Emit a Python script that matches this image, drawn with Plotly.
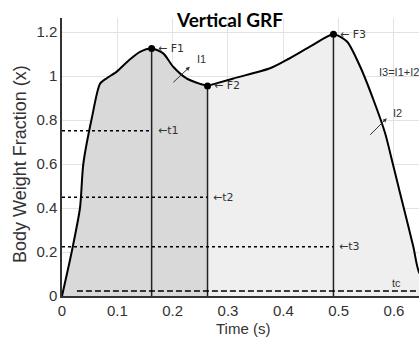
import plotly.graph_objects as go

# ---- data ----
time_s = [0, 0.0175, 0.0325, 0.0385, 0.054, 0.0687, 0.0808, 0.099, 0.123, 0.141,
          0.162, 0.183, 0.201, 0.225, 0.2495, 0.263, 0.31, 0.376, 0.406, 0.448,
          0.4906, 0.515, 0.539, 0.563, 0.584, 0.598, 0.611, 0.635, 0.645, 0.675]
bw_fraction = [0, 0.2, 0.4, 0.6, 0.81, 0.965, 0.99, 1.02, 1.076, 1.11,
               1.125, 1.103, 1.042, 0.989, 0.964, 0.955, 0.989, 1.035, 1.073, 1.133,
               1.19, 1.157, 1.042, 0.891, 0.74, 0.6, 0.467, 0.224, 0.11, 0.0]

peak_names = ["F1", "F2", "F3"]
peak_t = [0.162, 0.263, 0.4906]
peak_f = [1.125, 0.955, 1.19]

level_names = ["t1", "t2", "t3"]
level_f = [0.751, 0.449, 0.224]
level_end_t = [0.162, 0.263, 0.4906]

tc_level = 0.023
tc_start = 0.027
tc_end = 0.70

x_ticks = [0, 0.1, 0.2, 0.3, 0.4, 0.5, 0.6]
y_ticks = [0, 0.2, 0.4, 0.6, 0.8, 1, 1.2]

# ---- build figure ----
split = time_s.index(peak_t[1])
t_left, f_left = time_s[:split + 1], bw_fraction[:split + 1]
t_right, f_right = time_s[split:], bw_fraction[split:]

fig = go.Figure()
fig.add_trace(go.Scatter(x=t_left, y=f_left, mode="lines", fill="tozeroy",
                         fillcolor="#d9d9d9", line=dict(color="black", width=2, shape="spline", smoothing=0.7),
                         hoverinfo="skip"))
fig.add_trace(go.Scatter(x=t_right, y=f_right, mode="lines", fill="tozeroy",
                         fillcolor="#efefef", line=dict(color="black", width=2, shape="spline", smoothing=0.7),
                         hoverinfo="skip"))

for t, f in zip(peak_t, peak_f):
    fig.add_trace(go.Scatter(x=[t, t], y=[0, f], mode="lines",
                             line=dict(color="#222", width=1.5), hoverinfo="skip"))
fig.add_trace(go.Scatter(x=peak_t, y=peak_f, mode="markers",
                         marker=dict(color="black", size=7), hoverinfo="skip"))

for f, te in zip(level_f, level_end_t):
    fig.add_trace(go.Scatter(x=[0, te], y=[f, f], mode="lines",
                             line=dict(color="black", width=1.5, dash="3px,3px"), hoverinfo="skip"))
fig.add_trace(go.Scatter(x=[tc_start, tc_end], y=[tc_level, tc_level], mode="lines",
                         line=dict(color="black", width=1.6, dash="6px,3px"), hoverinfo="skip"))

ann_font = dict(family="Liberation Sans, Arial", size=11, color="#333")
arrow_font = dict(family="DejaVu Sans", size=11, color="#333")
annotations = []
for name, t, f in zip(peak_names, peak_t, peak_f):
    annotations.append(dict(x=t + 0.008, y=f, text="\u2190 " + name, showarrow=False,
                            xanchor="left", yanchor="middle", font=arrow_font))
for name, t, f in zip(level_names, level_end_t, level_f):
    annotations.append(dict(x=t + 0.007, y=f, text="\u2190" + name, showarrow=False,
                            xanchor="left", yanchor="middle", font=arrow_font))
annotations.append(dict(x=0.605, y=0.058, text="tc", showarrow=False, font=ann_font))
# I1 / I2 leader arrows
annotations.append(dict(x=0.231, y=1.042, ax=-18, ay=17, text="", showarrow=True,
                        arrowhead=2, arrowsize=0.8, arrowwidth=1, arrowcolor="#333"))
annotations.append(dict(x=0.240, y=1.077, text="I1", showarrow=False, xanchor="left", font=ann_font))
annotations.append(dict(x=0.587, y=0.808, ax=-18, ay=18, text="", showarrow=True,
                        arrowhead=2, arrowsize=0.8, arrowwidth=1, arrowcolor="#333"))
annotations.append(dict(x=0.594, y=0.83, text="I2", showarrow=False, xanchor="left", font=ann_font))
annotations.append(dict(x=0.569, y=1.02, text="I3=I1+I2", showarrow=False, xanchor="left", font=ann_font))

# axis titles
annotations.append(dict(xref="paper", yref="paper", x=(243 - 62) / 357, y=-(328 - 296) / 278,
                        text="Time (s)", showarrow=False, yanchor="middle",
                        font=dict(family="Liberation Sans, Arial", size=15, color="#333")))
annotations.append(dict(xref="paper", yref="paper", x=(20 - 62) / 357, y=(296 - 164) / 278,
                        text="Body Weight Fraction (x)", showarrow=False, textangle=-90,
                        xanchor="center", yanchor="middle",
                        font=dict(family="Liberation Sans, Arial", size=18, color="#333")))

fig.update_layout(
    width=419, height=338,
    margin=dict(l=62, r=0, t=18, b=42, autoexpand=False),
    paper_bgcolor="white", plot_bgcolor="white",
    showlegend=False,
    title=dict(text="<b>Vertical GRF</b>", x=230 / 419, xref="container", xanchor="center",
               y=1 - 20 / 338, yref="container", yanchor="middle",
               font=dict(family="Lato, Open Sans", size=19, color="black")),
    annotations=annotations,
)
fig.update_xaxes(range=[0, 357 / 553.3], tickvals=x_ticks, ticktext=[str(v) for v in x_ticks],
                 showgrid=True, gridcolor="#e3e3e3", zeroline=False,
                 showline=True, linecolor="#333", linewidth=1.5,
                 tickfont=dict(family="Liberation Sans, Arial", size=15, color="#333"))
fig.update_yaxes(range=[0, 278 / 220], tickvals=y_ticks, ticktext=[str(v) for v in y_ticks],
                 showgrid=True, gridcolor="#e3e3e3", zeroline=False,
                 showline=True, linecolor="#333", linewidth=1.5,
                 tickfont=dict(family="Liberation Sans, Arial", size=15, color="#333"))

fig.write_html("out.html", config={"displayModeBar": False},
               post_script="document.body.style.margin='0';document.body.style.overflow='hidden';")
